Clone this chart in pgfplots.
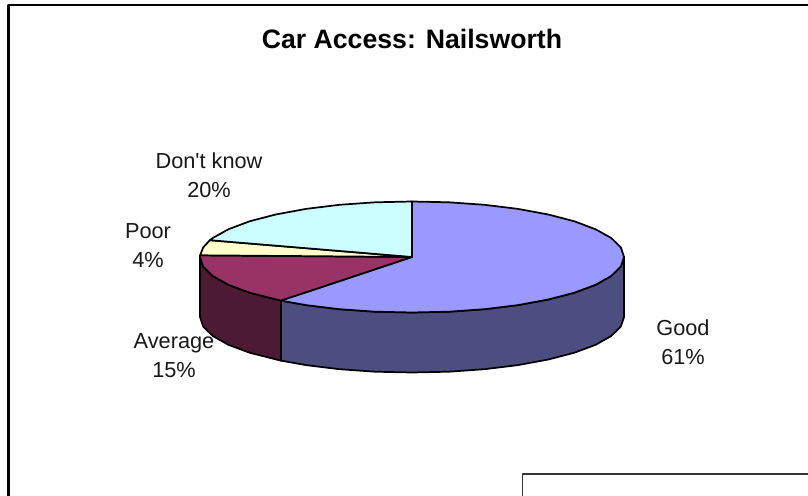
\documentclass[border=0pt]{standalone}
\usepackage{pgfplots}
\pgfplotsset{compat=1.18}
\usepackage{fontspec}
\setmainfont{Liberation Sans}[Ligatures=TeXOff]
\definecolor{goodtop}{HTML}{9999FF}
\definecolor{goodwall}{HTML}{4D4D80}
\definecolor{avgtop}{HTML}{993366}
\definecolor{avgwall}{HTML}{4D1A33}
\definecolor{poortop}{HTML}{FFFFCC}
\definecolor{dktop}{HTML}{CCFFFF}
\tikzset{lab/.style={align=center, font=\fontsize{16.3}{21.75}\selectfont, text=black!90}}
\begin{document}
\begin{tikzpicture}
\begin{axis}[
  scale only axis, width=606pt, height=372pt,
  xmin=0, xmax=808, ymin=0, ymax=496, y dir=reverse,
  hide axis, clip=true,
  every axis plot/.append style={line width=1.3pt, line join=round, draw=black},
]
% White page area, which also fixes the size of the picture
\addplot[fill=white, draw=none] coordinates {(0,0) (808,0) (808,496) (0,496)} --cycle;

% Chart-area frame and the box below the pie, both running off the page
\addplot[line width=1.7pt] coordinates {(8.5,496) (8.5,5) (808,5)};
\addplot[line width=1.4pt, draw=black!80] coordinates {(522.5,496) (522.5,474) (808,474)};

% Side walls of the pie, 60 units deep
\addplot[fill=goodwall] coordinates {
  (624,257) (620.8,266.6) (611.2,276) (595.6,284.8) (574.4,292.7) (548.3,299.5)
  (518,305.1) (484.5,309.2) (448.8,311.7) (412,312.5) (375.2,311.7) (339.5,309.2)
  (306,305.1) (280.9,300.6)
  (280.9,360.6) (306,365.1) (339.5,369.2) (375.2,371.7) (412,372.5) (448.8,371.7)
  (484.5,369.2) (518,365.1) (548.3,359.5) (574.4,352.7) (595.6,344.8) (611.2,336)
  (620.8,326.6) (624,317)} --cycle;
\addplot[fill=avgwall] coordinates {
  (280.9,300.6) (249.6,292.7) (228.4,284.8) (212.8,276) (203.2,266.6) (200,257)
  (200,317) (203.2,326.6) (212.8,336) (228.4,344.8) (249.6,352.7) (280.9,360.6)} --cycle;

% Top faces: Good 60.6, Average 14.9, Poor 4.4, Don't know 20.1 per cent
\addplot[fill=goodtop] coordinates {
  (412,257) (412,201.5) (448.8,202.3) (484.5,204.8) (518,208.9) (548.3,214.5)
  (574.4,221.3) (595.6,229.3) (611.2,238) (620.8,247.4) (624,257) (620.8,266.6)
  (611.2,276) (595.6,284.8) (574.4,292.7) (548.3,299.5) (518,305.1) (484.5,309.2)
  (448.8,311.7) (412,312.5) (375.2,311.7) (339.5,309.2) (306,305.1) (280.9,300.6)} --cycle;
\addplot[fill=avgtop] coordinates {
  (412,257) (280.9,300.6) (249.6,292.7) (228.4,284.8) (212.8,276) (203.2,266.6)
  (200,257) (200.1,255.3)} --cycle;
\addplot[fill=poortop] coordinates {
  (412,257) (200.1,255.3) (203.2,247.4) (209.9,240.2)} --cycle;
\addplot[fill=dktop] coordinates {
  (412,257) (209.9,240.2) (212.8,238) (228.4,229.3) (249.6,221.3) (275.7,214.5)
  (306,208.9) (339.5,204.8) (375.2,202.3) (412,201.5)} --cycle;

% Title and slice labels
\node[font=\bfseries\fontsize{20}{24}\selectfont, text=black] at (axis cs:412,39) {Car Access: Nailsworth};
\node[lab] at (axis cs:209,175) {Don't know\\20\%};
\node[lab] at (axis cs:148,245.5) {Poor\\4\%};
\node[lab] at (axis cs:174,356) {Average\\15\%};
\node[lab] at (axis cs:683,342.5) {Good\\61\%};
\end{axis}
\end{tikzpicture}
\end{document}
